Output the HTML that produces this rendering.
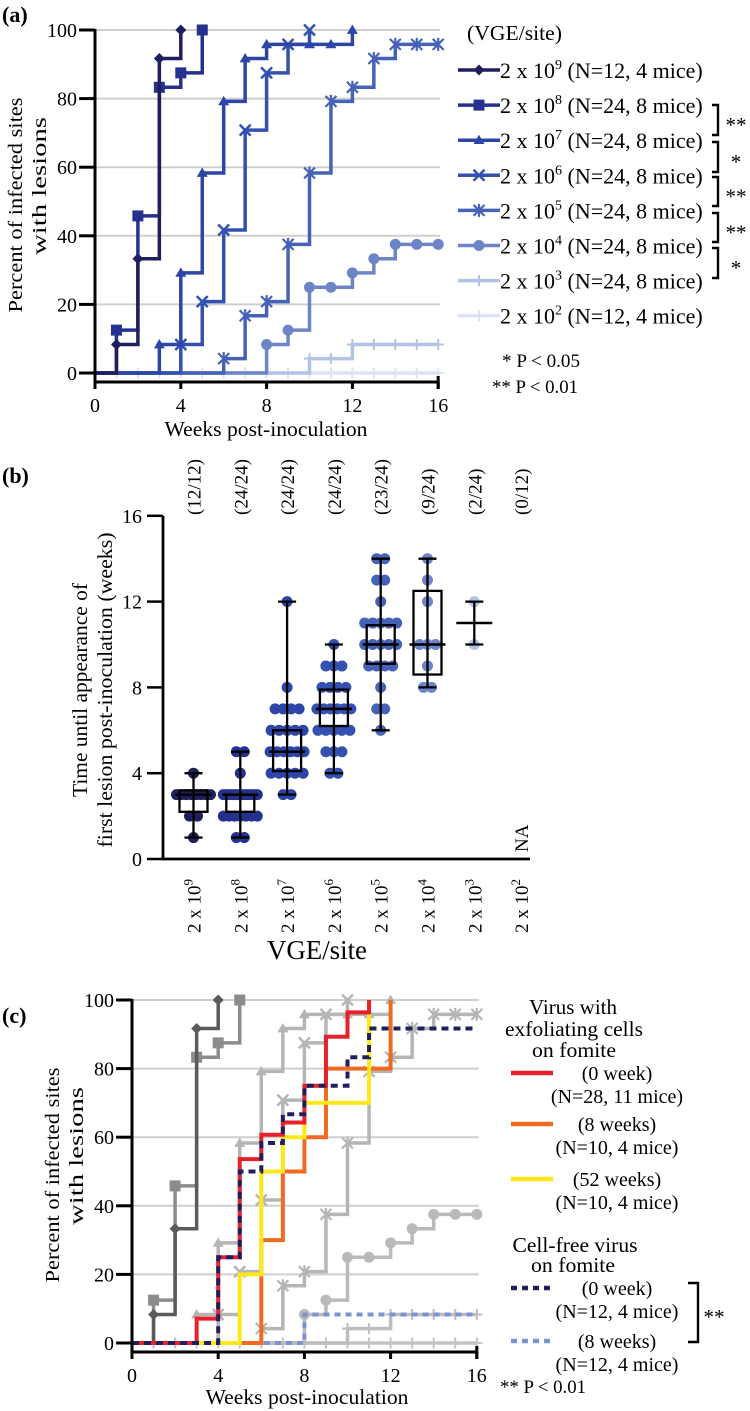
<!DOCTYPE html>
<html><head><meta charset="utf-8"><style>
html,body{margin:0;padding:0;background:#fff}
svg{display:block;font-family:"Liberation Serif",serif}
</style></head><body>
<svg id="fig" width="750" height="1411" viewBox="0 0 750 1411" xmlns="http://www.w3.org/2000/svg">
<text x="2" y="22" font-size="22" font-weight="bold">(a)</text>
<text x="2" y="483" font-size="22" font-weight="bold">(b)</text>
<text x="2" y="1023" font-size="22" font-weight="bold">(c)</text>
<g id="pa"></g>
<g id="pb"></g>
<g id="pc"></g>
</svg>
<script>
// ---- panel a data ----
const seriesNames = ["2e9","2e8","2e7","2e6","2e5","2e4","2e3","2e2"];
const seriesExp = ["9","8","7","6","5","4","3","2"];
const seriesN = ["(N=12, 4 mice)","(N=24, 8 mice)","(N=24, 8 mice)","(N=24, 8 mice)","(N=24, 8 mice)","(N=24, 8 mice)","(N=24, 8 mice)","(N=12, 4 mice)"];
const w2e9 = [1,2,3,4];            const v2e9 = [8.3,33.3,91.7,100];
const w2e8 = [1,2,3,4,5];          const v2e8 = [12.5,45.8,83.3,87.5,100];
const w2e7 = [3,4,5,6,7,8,10,11,12]; const v2e7 = [8.3,29.2,58.3,79.2,91.7,95.8,95.8,95.8,100];
const w2e6 = [4,5,6,7,8,9,10];     const v2e6 = [8.3,20.8,41.7,70.8,87.5,95.8,100];
const w2e5 = [6,7,8,9,10,11,12,13,14,15,16]; const v2e5 = [4.2,16.7,20.8,37.5,58.3,79.2,83.3,91.7,95.8,95.8,95.8];
const w2e4 = [8,9,10,11,12,13,14,15,16]; const v2e4 = [8.3,12.5,25,25,29.2,33.3,37.5,37.5,37.5];
const w2e3 = [10,11,12,13,14,15,16]; const v2e3 = [4.2,4.2,8.3,8.3,8.3,8.3,8.3];
const w2e2 = [1,2,3,4,5,6,7,8,9,10,11,12,13,14,15,16]; const v2e2 = [0,0,0,0,0,0,0,0,0,0,0,0,0,0,0,0];
const xTicks = [0,4,8,12,16];
const yTicks = [0,20,40,60,80,100];
// ---- panel b data ----
const bCats = ["9","8","7","6","5","4","3","2"];
const bCounts = ["(12/12)","(24/24)","(24/24)","(24/24)","(23/24)","(9/24)","(2/24)","(0/12)"];
const bPts9 = [1,2,2,3,3,3,3,3,3,3,3,4];
const bPts8 = [1,1,2,2,2,2,2,2,2,3,3,3,3,3,3,3,3,3,3,3,3,4,5,5];
const bPts7 = [3,3,4,4,4,4,4,5,5,5,5,5,5,6,6,6,6,6,7,7,7,7,8,12];
const bPts6 = [4,4,5,5,5,6,6,6,6,6,7,7,7,7,7,7,8,8,8,8,9,9,9,10];
const bPts5 = [6,7,7,8,9,9,9,9,10,10,10,10,10,11,11,11,11,11,12,13,13,14,14];
const bPts4 = [8,8,9,10,10,10,12,13,14];
const bPts3 = [10,12];
const bMedian = [3,3,5,7,10,10,11];
const bQ1 = [2.2,2.2,4.1,6.2,9.1,8.6,null];
const bQ3 = [3.2,3.0,6.0,7.9,10.9,12.5,null];
const bTicks = [0,4,8,12,16];
// ---- panel c data ----
const cRedW = [3,4,5,6,7,8,9,10,11];   const cRedV = [7.1,25,53.6,60.7,64.3,75,89.3,96.4,100];
const cOrW = [6,7,8,9,10,11,12];       const cOrV = [30,50,60,80,80,80,100];
const cYeW = [5,6,7,8,9,10,11];        const cYeV = [20,50,60,70,70,70,100];
const cDkW = [4,5,6,7,8,9,10,11,16];   const cDkV = [25,50,58.3,66.7,75,75,83.3,91.7,91.7];
const cLtW = [8,16];                   const cLtV = [8.3,8.3];

const NS="http://www.w3.org/2000/svg";
function mk(parent,tag,attrs,txt){const e=document.createElementNS(NS,tag);for(const k in attrs)e.setAttribute(k,attrs[k]);if(txt!==undefined)e.textContent=txt;parent.appendChild(e);return e;}

const aW=[w2e9,w2e8,w2e7,w2e6,w2e5,w2e4,w2e3,w2e2];
const aV=[v2e9,v2e8,v2e7,v2e6,v2e5,v2e4,v2e3,v2e2];
const blues=["#1f1f5e","#25318e","#2c45a6","#3450b0","#4661b8","#6d85c7","#b3c3e6","#dbe3f4"];
const greys=["#5a5a5a","#8c8c8c","#b5b5b5","#b5b5b5","#b5b5b5","#bababa","#bdbdbd","#c4c4c4"];
const shapes=["diamond","square","triangle","x","star","circle","plus","plus"];

function marker(g,shape,cx,cy,col){
  const r=5.5;let e;
  if(shape==="diamond")e=mk(g,"polygon",{points:`${cx},${cy-r} ${cx+r},${cy} ${cx},${cy+r} ${cx-r},${cy}`,fill:col});
  else if(shape==="square")e=mk(g,"rect",{x:cx-r,y:cy-r,width:2*r,height:2*r,fill:col});
  else if(shape==="triangle")e=mk(g,"polygon",{points:`${cx},${cy-r} ${cx+r},${cy+r*0.7} ${cx-r},${cy+r*0.7}`,fill:col});
  else if(shape==="circle")e=mk(g,"circle",{cx:cx,cy:cy,r:r,fill:col});
  else if(shape==="x")e=mk(g,"path",{d:`M${cx-r},${cy-r}L${cx+r},${cy+r}M${cx-r},${cy+r}L${cx+r},${cy-r}`,stroke:col,"stroke-width":2.5,fill:"none"});
  else if(shape==="star")e=mk(g,"path",{d:`M${cx-r},${cy-r}L${cx+r},${cy+r}M${cx-r},${cy+r}L${cx+r},${cy-r}M${cx},${cy-r-1}L${cx},${cy+r+1}`,stroke:col,"stroke-width":2.2,fill:"none"});
  else e=mk(g,"path",{d:`M${cx-r},${cy}L${cx+r},${cy}M${cx},${cy-r}L${cx},${cy+r}`,stroke:col,"stroke-width":2,fill:"none"});
  
  
}
function stepPath(W,V,X,Y){
  let d=`M${X(0)},${Y(0)}`;
  for(let i=0;i<W.length;i++){d+=`H${X(W[i])}V${Y(V[i])}`;}
  return d;
}
function fitText(parent,attrs,txt,len){
  const t=mk(parent,"text",Object.assign({textLength:len,lengthAdjust:"spacingAndGlyphs"},attrs),txt);
  return t;
}
function survGrid(g,X,Y){
  yTicks.forEach(t=>{
    if(t>0){const gl=mk(g,"line",{x1:X(0),x2:X(16)+2,y1:Y(t),y2:Y(t),stroke:"#cfcfcf","stroke-width":2});
      }
  });
}
function survAxisLines(g,X,Y){
  const ya=mk(g,"line",{x1:X(0),x2:X(0),y1:Y(100)-1,y2:Y(0)+16,stroke:"#000","stroke-width":3});
  
  const ax=mk(g,"line",{x1:X(0),x2:X(16)+1,y1:Y(0)+9,y2:Y(0)+9,stroke:"#000","stroke-width":3});
  
  xTicks.forEach(t=>{const tk=mk(g,"line",{x1:X(t),x2:X(t),y1:Y(0)+9,y2:Y(0)+16,stroke:"#000","stroke-width":3});
    
    const tl=mk(g,"text",{x:X(t),y:Y(0)+39,"font-size":20,"text-anchor":"middle"},String(t));
    });
  const rt=mk(g,"line",{x1:X(16),x2:X(16),y1:Y(0)+3,y2:Y(0)+16,stroke:"#000","stroke-width":3});
  
  yTicks.forEach(t=>{const tk=mk(g,"line",{x1:X(0)-16,x2:X(0),y1:Y(t),y2:Y(t),stroke:"#000","stroke-width":3});
    
    const tl=mk(g,"text",{x:X(0)-18,y:Y(t)+7,"font-size":20,"text-anchor":"end"},String(t));
    });
}

// ===== Panel A =====
(function(){
  const g=document.getElementById('pa');
  const X=w=>95+w*21.45, Y=v=>373-v*3.43;
  survGrid(g,X,Y);
  for(let s=7;s>=0;s--){
    const sg=mk(g,"g",{});
    
    const p=mk(sg,"path",{d:stepPath(aW[s],aV[s],X,Y),stroke:blues[s],"stroke-width":3.5,fill:"none"});
    
    aW[s].forEach((w,i)=>marker(sg,shapes[s],X(w),Y(aV[s][i]),blues[s]));
  }
  survAxisLines(g,X,Y);
  const yl=fitText(g,{transform:"translate(22,205) rotate(-90)","font-size":20,"text-anchor":"middle"},"Percent of  infected sites",215);
  
  const yl2=fitText(g,{transform:"translate(46,186) rotate(-90)","font-size":20,"text-anchor":"middle"},"with  lesions",138);
  
  const xl=fitText(g,{x:266,y:436,"font-size":21,"text-anchor":"middle"},"Weeks post-inoculation",203);
  
  const lt=fitText(g,{x:467,y:40,"font-size":21},"(VGE/site)",95);
  
  for(let s=0;s<8;s++){
    const ly=70+s*35.1;
    const lg=mk(g,"g",{});
    
    mk(lg,"line",{x1:458,x2:500,y1:ly,y2:ly,stroke:blues[s],"stroke-width":3.5});
    marker(lg,shapes[s],479,ly,blues[s]);
    const t=mk(lg,"text",{x:500,y:ly+8,"font-size":22});
    t.innerHTML=`2 x 10<tspan dy="-9" font-size="14">${seriesExp[s]}</tspan><tspan dy="9"> ${seriesN[s]}</tspan>`;
  }
  const brackets=[[105,135,"**"],[142,172,"*"],[177,206,"**"],[213,242,"**"],[248,278,"*"]];
  brackets.forEach(b=>{
    const bk=mk(g,"path",{d:`M712,${b[0]}H718V${b[1]}H712`,stroke:"#000","stroke-width":2.4,fill:"none"});
    
    const st=mk(g,"text",{x:736,y:(b[0]+b[1])/2+12,"font-size":21,"text-anchor":"middle"},b[2]);
    
  });
  const p1=fitText(g,{x:502,y:367,"font-size":19},"* P < 0.05",78);
  
  const p2=fitText(g,{x:492,y:393,"font-size":19},"** P < 0.01",86);
  
})();

// ===== Panel B =====
(function(){
  const g=document.getElementById('pb');
  const Y=v=>859-v*21.45;
  const X=i=>193.5+i*46.8;
  const pts=[bPts9,bPts8,bPts7,bPts6,bPts5,bPts4,bPts3];
  const ax=mk(g,"path",{d:`M163,${Y(16)}V${Y(0)}H530`,stroke:"#000","stroke-width":2.8,fill:"none"});
  
  bTicks.forEach(t=>{
    const tk=mk(g,"line",{x1:147,x2:163,y1:Y(t),y2:Y(t),stroke:"#000","stroke-width":2.5});
    
    const tl=mk(g,"text",{x:142,y:Y(t)+7,"font-size":20,"text-anchor":"end"},String(t));
    
  });
  bCats.forEach((c,i)=>{
    const cl=mk(g,"text",{transform:`translate(${X(i)+7},933) rotate(-90)`,"font-size":19});
    cl.innerHTML=`2 x 10<tspan dy="-8" font-size="13">${c}</tspan>`;
    
    const nl=mk(g,"text",{transform:`translate(${X(i)+7},515) rotate(-90)`,"font-size":19},bCounts[i]);
    
  });
  const na=mk(g,"text",{transform:`translate(${X(7)+7},852) rotate(-90)`,"font-size":19},"NA");
  
  pts.forEach((arr,i)=>{
    const col=blues[i];
    const cg=mk(g,"g",{});
    
    const counts={};arr.forEach(v=>counts[v]=(counts[v]||0)+1);
    const seen={};
    arr.forEach(v=>{
      const n=counts[v];const k=(seen[v]=(seen[v]||0)+1)-1;
      const spread=Math.min(8,(n>1?34/(n-1):0));
      const off=(k-(n-1)/2)*spread;
      const d=mk(cg,"circle",{cx:X(i)+off,cy:Y(v),r:5.5,fill:col});
      
    });
    const mn=Math.min(...arr),mx=Math.max(...arr);
    const wh=mk(cg,"path",{d:`M${X(i)},${Y(mn)}V${Y(mx)}M${X(i)-9},${Y(mn)}H${X(i)+9}M${X(i)-9},${Y(mx)}H${X(i)+9}`,stroke:"#000","stroke-width":2.3,fill:"none"});
    
    if(bQ1[i]!==null){
      const bx=mk(cg,"rect",{x:X(i)-14,y:Y(bQ3[i]),width:28,height:Y(bQ1[i])-Y(bQ3[i]),fill:"none",stroke:"#000","stroke-width":2.3});
      
    }
    const md=mk(cg,"line",{x1:X(i)-18,x2:X(i)+18,y1:Y(bMedian[i]),y2:Y(bMedian[i]),stroke:"#000","stroke-width":2.5});
    
  });
  const yl=fitText(g,{transform:"translate(87,690) rotate(-90)","font-size":21,"text-anchor":"middle"},"Time until appearance of",214);
  
  const yl2=fitText(g,{transform:"translate(112,690) rotate(-90)","font-size":21,"text-anchor":"middle"},"first lesion post-inoculation (weeks)",315);
  
  const xl=fitText(g,{x:317,y:959,"font-size":27,"text-anchor":"middle"},"VGE/site",100);
  
})();

// ===== Panel C =====
(function(){
  const g=document.getElementById('pc');
  const X=w=>132+w*21.55, Y=v=>1343-v*3.43;
  survGrid(g,X,Y);
  for(let s=7;s>=0;s--){
    const sg=mk(g,"g",{});
    
    mk(sg,"path",{d:stepPath(aW[s],aV[s],X,Y),stroke:greys[s],"stroke-width":3.5,fill:"none"});
    aW[s].forEach((w,i)=>marker(sg,shapes[s],X(w),Y(aV[s][i]),greys[s]));
  }
  const cs=[[cLtW,cLtV,"#7b93d0","6 5","cellfree-8wk"],[cOrW,cOrV,"#f06a22",null,"exfol-8wk"],[cYeW,cYeV,"#ffe81a",null,"exfol-52wk"],[cRedW,cRedV,"#e8202a",null,"exfol-0wk"],[cDkW,cDkV,"#1f1f5e","7 5","cellfree-0wk"]];
  cs.forEach(c=>{
    const a={d:stepPath(c[0],c[1],X,Y),stroke:c[2],"stroke-width":4,fill:"none"};
    if(c[3])a["stroke-dasharray"]=c[3];
    const p=mk(g,"path",a);
    
  });
  survAxisLines(g,X,Y);
  const yl=fitText(g,{transform:"translate(59,1175) rotate(-90)","font-size":20,"text-anchor":"middle"},"Percent of  infected sites",215);
  
  const yl2=fitText(g,{transform:"translate(83,1156) rotate(-90)","font-size":20,"text-anchor":"middle"},"with  lesions",138);
  
  const xl=fitText(g,{x:307,y:1404,"font-size":21,"text-anchor":"middle"},"Weeks post-inoculation",203);
  
  const T=(x,y,s,name,len)=>{const t=fitText(g,{x:x,y:y,"font-size":21,"text-anchor":"middle"},s,len);return t;};
  T(573,1014,"Virus with","legend-heading-1",88);
  T(574,1036,"exfoliating cells","legend-heading-1b",138);
  T(574,1057,"on fomite","legend-heading-1c",84);
  T(575,1252,"Cell-free virus","legend-heading-2",125);
  T(573,1272,"on fomite","legend-heading-2b",84);
  const ent=[[1073,"#e8202a",null,"(0 week)","(N=28, 11 mice)","legend-exfol-0wk"],
             [1124,"#f06a22",null,"(8 weeks)","(N=10, 4 mice)","legend-exfol-8wk"],
             [1179,"#ffe81a",null,"(52 weeks)","(N=10, 4 mice)","legend-exfol-52wk"],
             [1288,"#1f1f5e","6 5","(0 week)","(N=12, 4 mice)","legend-cellfree-0wk"],
             [1341,"#7b93d0","6 5","(8 weeks)","(N=12, 4 mice)","legend-cellfree-8wk"]];
  ent.forEach(e=>{
    const lg=mk(g,"g",{});
    
    const a={x1:511,x2:553,y1:e[0],y2:e[0],stroke:e[1],"stroke-width":4.5};
    if(e[2])a["stroke-dasharray"]=e[2];
    mk(lg,"line",a);
    mk(lg,"text",{x:617,y:e[0]+7,"font-size":20,"text-anchor":"middle"},e[3]);
    mk(lg,"text",{x:617,y:e[0]+30,"font-size":20,"text-anchor":"middle"},e[4]);
  });
  const bk=mk(g,"path",{d:"M688,1283H698V1342H688",stroke:"#000","stroke-width":2.4,fill:"none"});
  
  const st=mk(g,"text",{x:714,y:1324,"font-size":21,"text-anchor":"middle"},"**");
  
  const pn=fitText(g,{x:543,y:1393,"font-size":19,"text-anchor":"middle"},"** P < 0.01",86);
  
})();
</script>
</body></html>
